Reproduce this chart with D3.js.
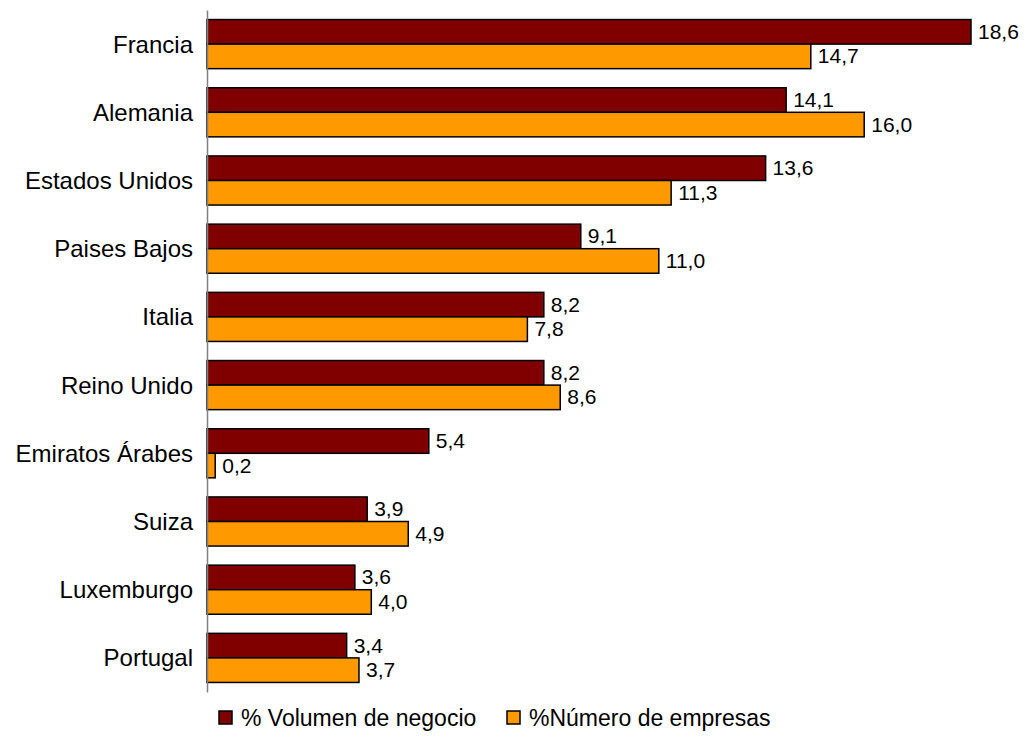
<!DOCTYPE html>
<html>
<head>
<meta charset="utf-8">
<script src="https://cdn.jsdelivr.net/npm/d3@7"></script>
<style>
body { margin: 0; background: #fff; }
text { font-family: "Liberation Sans", Arial, sans-serif; fill: #000; }
</style>
</head>
<body>
<svg width="1026" height="751"></svg>
<script>
var paises = ["Francia", "Alemania", "Estados Unidos", "Paises Bajos", "Italia", "Reino Unido", "Emiratos Árabes", "Suiza", "Luxemburgo", "Portugal"];
var volumen = [18.6, 14.1, 13.6, 9.1, 8.2, 8.2, 5.4, 3.9, 3.6, 3.4];
var empresas = [14.7, 16.0, 11.3, 11.0, 7.8, 8.6, 0.2, 4.9, 4.0, 3.7];
var series = ["% Volumen de negocio", "%Número de empresas"];
var colores = ["#800000", "#FF9900"];

var svg = d3.select("svg");

var x = d3.scaleLinear().domain([0, 18.6]).range([207, 971]);
var y = d3.scaleBand().domain(paises).range([10, 692]).paddingInner(0.28).paddingOuter(0.14);
var ySub = d3.scaleBand().domain([0, 1]).range([0, y.bandwidth()]);

var fmt = function(v) { return v.toFixed(1).replace(".", ","); };

var data = [];
paises.forEach(function(p, i) {
	data.push({ pais: p, s: 0, v: volumen[i] });
	data.push({ pais: p, s: 1, v: empresas[i] });
});

svg.selectAll("rect.bar")
	.data(data)
	.enter().append("rect")
	.attr("class", "bar")
	.attr("x", x(0))
	.attr("y", function(d) { return y(d.pais) + ySub(d.s); })
	.attr("width", function(d) { return x(d.v) - x(0); })
	.attr("height", ySub.bandwidth())
	.attr("fill", function(d) { return colores[d.s]; })
	.attr("stroke", "#000")
	.attr("stroke-width", 1.5);

svg.selectAll("text.val")
	.data(data)
	.enter().append("text")
	.attr("class", "val")
	.attr("x", function(d) { return x(d.v) + 7; })
	.attr("y", function(d) { return y(d.pais) + ySub(d.s) + ySub.bandwidth() / 2 + 7; })
	.attr("font-size", 21)
	.text(function(d) { return fmt(d.v); });

// eje vertical
var axis = svg.append("g")
	.attr("transform", "translate(" + x(0) + ",0)")
	.call(d3.axisLeft(y).tickSize(0).tickPadding(14));
axis.select(".domain").attr("stroke", "#808080").attr("stroke-width", 1.5);
axis.selectAll("text")
	.attr("font-size", 24)
	.attr("dy", "0.35em")
	.attr("font-family", "Liberation Sans, Arial, sans-serif")
	.attr("fill", "#000");

// leyenda
var leg = svg.append("g");
var legX = [219, 507];
series.forEach(function(s, i) {
	leg.append("rect")
		.attr("x", legX[i]).attr("y", 711)
		.attr("width", 13).attr("height", 13)
		.attr("fill", colores[i])
		.attr("stroke", "#000").attr("stroke-width", 1.5);
	leg.append("text")
		.attr("x", legX[i] + 22).attr("y", 726)
		.attr("font-size", 23)
		.text(s);
});
</script>
</body>
</html>
